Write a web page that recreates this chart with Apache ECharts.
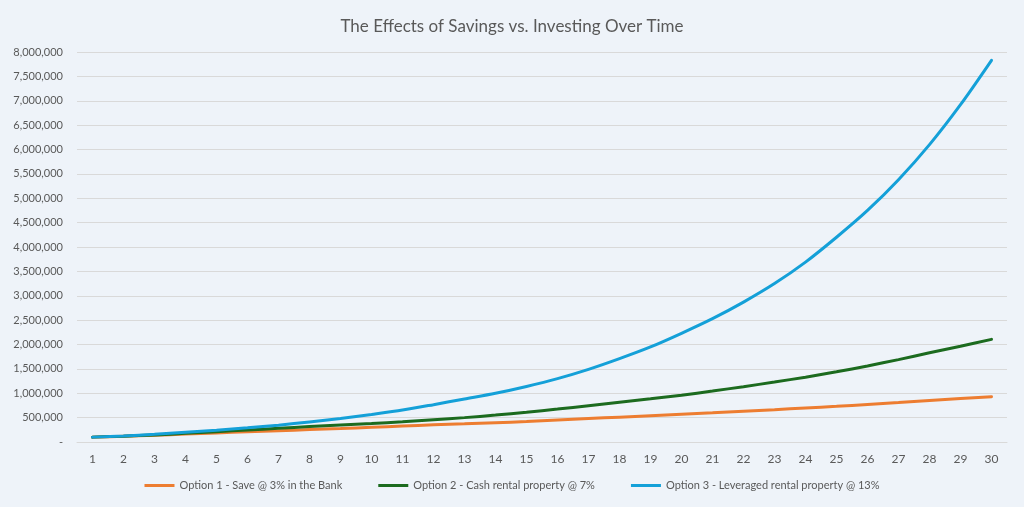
<!DOCTYPE html>
<html>
<head>
<meta charset="utf-8">
<script src="https://cdn.jsdelivr.net/npm/echarts@6/dist/echarts.min.js"></script>
<style>
html,body{margin:0;padding:0;background:#EEF3F9;}
#chart{width:1024px;height:507px;}
</style>
</head>
<body>
<div id="chart"></div>
<script>
const years = ['1','2','3','4','5','6','7','8','9','10','11','12','13','14','15','16','17','18','19','20','21','22','23','24','25','26','27','28','29','30'];
const option1 = [100000,118000,138000,162000,186000,210000,230000,254000,277000,302000,328000,352000,372000,395000,420000,450000,480000,510000,540000,570000,600000,632000,664000,698000,732000,770000,810000,852000,893000,930000];
const option2 = [100000,120000,145000,178000,212000,246000,282000,317000,350000,380000,414000,458000,500000,552000,610000,675000,745000,815000,885000,960000,1045000,1135000,1230000,1330000,1440000,1560000,1690000,1830000,1965000,2105000];
const option3 = [100000,124000,159000,200000,241000,290000,345000,412000,483000,566000,655000,766000,883000,1000000,1140000,1300000,1490000,1710000,1950000,2230000,2530000,2870000,3250000,3690000,4200000,4750000,5380000,6100000,6920000,7830000];
const seriesNames = ['Option 1 - Save @ 3% in the Bank','Option 2 - Cash rental property @ 7%','Option 3 - Leveraged rental property @ 13%'];
const colors = ['#ED7D31','#1C6B1F','#14A0D8'];

const chart = echarts.init(document.getElementById('chart'));
const font = 'Lato';
chart.setOption({
  backgroundColor:'#EEF3F9',
  color: colors,
  animation:false,
  title:{
    text:'The Effects of Savings vs. Investing Over Time',
    left:'center', top:13,
    textStyle:{fontFamily:font,fontSize:17,fontWeight:'normal',color:'#595959'}
  },
  legend:{
    bottom:11, left:'center',
    itemWidth:30, itemHeight:3, itemGap:36, icon:'rect',
    textStyle:{fontFamily:font,fontSize:11,color:'#595959'},
    data: seriesNames
  },
  grid:{left:77,right:17,top:52,bottom:65,containLabel:false},
  xAxis:{
    type:'category', data:years, boundaryGap:true,
    axisLine:{lineStyle:{color:'#D9D9D9',width:1}},
    axisTick:{show:false},
    axisLabel:{color:'#595959',fontFamily:font,fontSize:12,margin:11}
  },
  yAxis:{
    type:'value', min:0, max:8000000, interval:500000,
    axisLine:{show:false}, axisTick:{show:false},
    splitLine:{lineStyle:{color:'#D9D9D9',width:1}},
    axisLabel:{color:'#595959',fontFamily:font,fontSize:11,margin:14,
      formatter:v=> v===0 ? '-' : v.toLocaleString('en-US')}
  },
  series:[option1,option2,option3].map((d,i)=>({
    name:seriesNames[i], type:'line', data:d, smooth:0.3,
    showSymbol:false, symbol:'none',
    lineStyle:{width:3,color:colors[i],cap:'round'}
  }))
});
</script>
</body>
</html>
